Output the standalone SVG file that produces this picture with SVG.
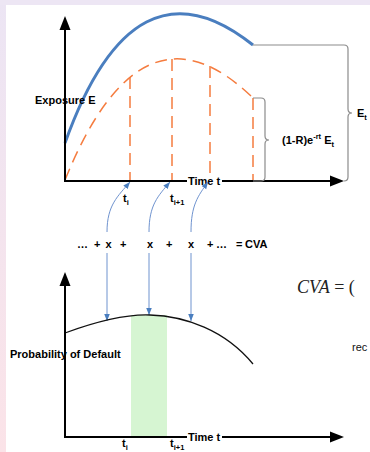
<svg xmlns="http://www.w3.org/2000/svg" width="370" height="452" viewBox="0 0 370 452">
<defs>
<linearGradient id="side" x1="0" y1="0" x2="0" y2="1">
<stop offset="0" stop-color="#ece5f4"/>
<stop offset="1" stop-color="#fbe3e8"/>
</linearGradient>
<marker id="bh" viewBox="0 0 10 10" refX="10" refY="5" markerWidth="7" markerHeight="7" orient="auto" markerUnits="userSpaceOnUse">
<path d="M0,1 L10,5 L0,9 Z" fill="#4a7ebf"/>
</marker>
</defs>
<style>
.ax{stroke:#000;stroke-width:2;fill:none}
.ah{fill:#000}
.blue{stroke:#4a7ebf;stroke-width:3;fill:none}
.or{stroke:#f57c3f;stroke-width:1.5;fill:none;stroke-dasharray:12 7}
.br{stroke:#8c8c8c;stroke-width:1.2;fill:none}
.con{stroke:#6f93cf;stroke-width:1;fill:none}
.pd{stroke:#111;stroke-width:1.3;fill:none}
.t{font-family:"Liberation Sans",Arial,sans-serif;font-weight:bold;font-size:11px;fill:#000}
</style>
<rect width="370" height="452" fill="#fff"/>
<rect x="0" y="0" width="6" height="452" fill="url(#side)"/>
<rect x="0" y="0" width="370" height="5" fill="#ede6f4"/>

<g id="exposure-chart">
<path class="blue" d="M65,143 Q134,-50 253,45"/>
<path class="or" d="M65,180 Q142,-10 253,98"/>
<line class="or" x1="130" y1="77" x2="130" y2="181"/>
<line class="or" x1="172" y1="59" x2="172" y2="181"/>
<line class="or" x1="210" y1="66" x2="210" y2="181"/>
<line class="or" x1="253" y1="98" x2="253" y2="181"/>
<line class="ax" x1="65" y1="28" x2="65" y2="182"/>
<path class="ah" d="M65,16 L59.5,30 L70.5,30 Z"/>
<line class="ax" x1="64" y1="181" x2="332" y2="181"/>
<path class="ah" d="M344,181 L330,175.5 L330,186.5 Z"/>
<rect x="187" y="174" width="35" height="13" fill="#fff"/>
<text class="t" x="188" y="185">Time t</text>
<text class="t" x="35" y="104">Exposure E</text>
</g>

<g id="brace-small">
<path class="br" d="M253,98 H261 Q265,98 265,102 V136 Q265,140 269,140 Q265,140 265,144 V177 Q265,181 261,181 H253"/>
<text class="t" x="282" y="144">(1-R)e<tspan font-size="7.5" dy="-5">-rt</tspan><tspan dy="5"> E</tspan><tspan font-size="7.5" dy="3">t</tspan></text>
</g>

<g id="brace-big">
<path class="br" d="M253,45 H344 Q348,45 348,49 V109 Q348,113 352,113 Q348,113 348,117 V177 Q348,181 344,181"/>
<text class="t" x="357" y="117">E<tspan font-size="7.5" dy="3">t</tspan></text>
</g>

<g id="labels-top">
<text class="t" x="123" y="202">t<tspan font-size="7.5" dy="3">i</tspan></text>
<text class="t" x="170" y="202">t<tspan font-size="7.5" dy="3">i+1</tspan></text>
</g>

<g id="cva-sum">
<text class="t" x="77" y="248">…</text>
<text class="t" x="94" y="248">+</text>
<text class="t" x="105.5" y="248">x</text>
<text class="t" x="120" y="248">+</text>
<text class="t" x="147" y="248">x</text>
<text class="t" x="166" y="248">+</text>
<text class="t" x="188" y="248">x</text>
<text class="t" x="207" y="248">+</text>
<text class="t" x="216" y="248">…</text>
<text class="t" x="236" y="248">=</text>
<text class="t" x="245" y="248">CVA</text>
</g>

<g id="connectors">
<path class="con" d="M107,232 C107,205 118,196 130,182" marker-end="url(#bh)"/>
<path class="con" d="M149,232 C149,205 158,196 170,182" marker-end="url(#bh)"/>
<path class="con" d="M191,232 C191,205 198,196 208,182" marker-end="url(#bh)"/>
<line class="con" x1="107" y1="253" x2="107" y2="321" marker-end="url(#bh)"/>
<line class="con" x1="149" y1="253" x2="149" y2="315" marker-end="url(#bh)"/>
<line class="con" x1="191" y1="253" x2="191" y2="321" marker-end="url(#bh)"/>
</g>

<g id="pd-chart">
<rect x="131" y="315" width="36" height="122" fill="#d6f5d2"/>
<path class="pd" d="M65,333 C95,322 125,314 150,315 C185,316 225,330 253,364"/>
<line class="ax" x1="65" y1="284" x2="65" y2="438"/>
<path class="ah" d="M65,272 L59.5,286 L70.5,286 Z"/>
<line class="ax" x1="64" y1="437" x2="332" y2="437"/>
<path class="ah" d="M344,437 L330,431.5 L330,442.5 Z"/>
<rect x="187" y="430" width="35" height="13" fill="#fff"/>
<text class="t" x="188" y="441">Time t</text>
<text class="t" x="10" y="358">Probability of Default</text>
<text class="t" x="122" y="447">t<tspan font-size="7.5" dy="3">i</tspan></text>
<text class="t" x="170" y="447">t<tspan font-size="7.5" dy="3">i+1</tspan></text>
</g>

<g id="side-text">
<text x="297" y="293" font-family="'Liberation Serif',serif" font-size="18" fill="#222"><tspan font-style="italic">CVA</tspan> = (</text>
<text x="352" y="351" font-family="'Liberation Sans',Arial,sans-serif" font-size="11" fill="#111">rec</text>
</g>
</svg>
